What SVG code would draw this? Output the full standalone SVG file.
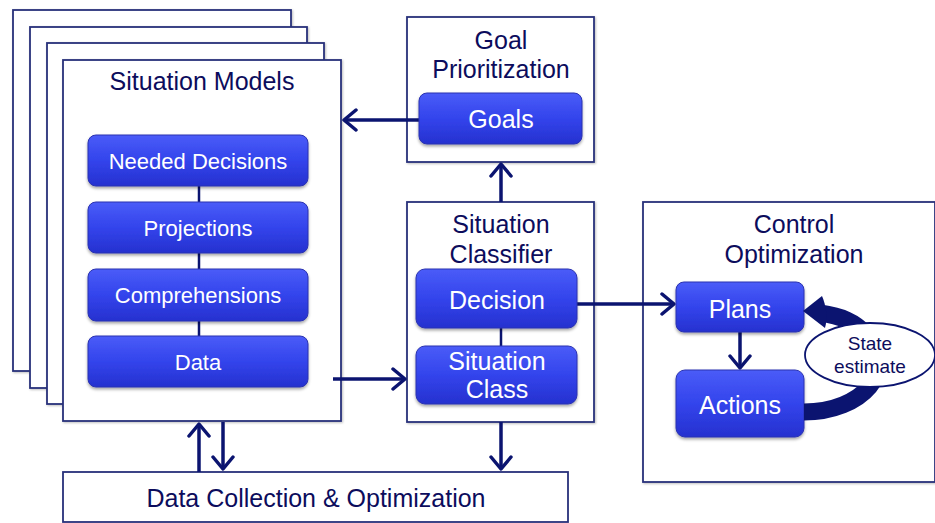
<svg xmlns="http://www.w3.org/2000/svg" width="935" height="523" viewBox="0 0 935 523">
<defs>
<linearGradient id="bg" x1="0" y1="0" x2="0" y2="1">
<stop offset="0" stop-color="#4a5cf8"/>
<stop offset="0.5" stop-color="#3344ec"/>
<stop offset="1" stop-color="#2631cf"/>
</linearGradient>
<filter id="sh" x="-10%" y="-10%" width="120%" height="130%">
<feDropShadow dx="0" dy="2" stdDeviation="1.5" flood-color="#000" flood-opacity="0.35"/>
</filter>
<filter id="sh2" x="-5%" y="-5%" width="110%" height="110%">
<feDropShadow dx="1" dy="1" stdDeviation="1" flood-color="#000" flood-opacity="0.25"/>
</filter>
<marker id="chev" viewBox="0 0 16 24" refX="14" refY="12" markerWidth="16" markerHeight="24" markerUnits="userSpaceOnUse" orient="auto">
<path d="M2 2 L14 12 L2 22" fill="none" stroke="#0b1470" stroke-width="3.5" stroke-linecap="round" stroke-linejoin="round"/>
</marker>
</defs>
<style>
.frame{fill:#fff;stroke:#27307a;stroke-width:1.8}
.bb{fill:url(#bg);stroke:#2a32b0;stroke-width:1}
.t{font-family:"Liberation Sans",Arial,sans-serif;fill:#0c0c5c;text-anchor:middle}
.w{font-family:"Liberation Sans",Arial,sans-serif;fill:#fff;text-anchor:middle}
.c{fill:none;stroke:#0b1470;stroke-width:3.5}
.l{fill:none;stroke:#0b1470;stroke-width:2.5}
</style>

<g id="pages-back">
<rect class="frame" x="13" y="10" width="278" height="361" filter="url(#sh2)"/>
<rect class="frame" x="30" y="27" width="277" height="361" filter="url(#sh2)"/>
<rect class="frame" x="47" y="43" width="277" height="361" filter="url(#sh2)"/>
</g>

<g id="situation-models">
<rect class="frame" x="63" y="60" width="278" height="361" filter="url(#sh2)"/>
<text class="t" x="202" y="90" font-size="25">Situation Models</text>
</g>

<g id="goal-prioritization">
<rect class="frame" x="407" y="17" width="187" height="145" filter="url(#sh2)"/>
<text class="t" x="501" y="49" font-size="25">Goal</text>
<text class="t" x="501" y="78" font-size="25">Prioritization</text>
</g>

<g id="situation-classifier">
<rect class="frame" x="407" y="202" width="187" height="220" filter="url(#sh2)"/>
<text class="t" x="501" y="233" font-size="25">Situation</text>
<text class="t" x="501" y="263" font-size="25">Classifier</text>
</g>

<g id="data-collection">
<rect class="frame" x="63" y="472" width="505" height="50"/>
<text class="t" x="316" y="507" font-size="25">Data Collection &amp; Optimization</text>
</g>

<g id="control-optimization">
<rect class="frame" x="643" y="202" width="292" height="280" filter="url(#sh2)"/>
<text class="t" x="794" y="233" font-size="25">Control</text>
<text class="t" x="794" y="263" font-size="25">Optimization</text>
</g>

<g id="connectors">
<path class="l" d="M199 186 V202 M199 253 V269 M199 321 V336 M501 328 V346"/>
<path class="c" d="M419 120 H344" marker-end="url(#chev)"/>
<path class="c" d="M501 202 V164" marker-end="url(#chev)"/>
<path class="c" d="M333 379 H405" marker-end="url(#chev)"/>
<path class="c" d="M501 422 V469" marker-end="url(#chev)"/>
<path class="c" d="M199 472 V424" marker-end="url(#chev)"/>
<path class="c" d="M223 422 V469" marker-end="url(#chev)"/>
<path class="c" d="M577 304 H674" marker-end="url(#chev)"/>
<path class="c" d="M740 332 V368" marker-end="url(#chev)"/>
</g>

<g id="needed-decisions">
<rect class="bb" x="88" y="135" width="220" height="51" rx="8" filter="url(#sh)"/>
<text class="w" x="198" y="169" font-size="22">Needed Decisions</text>
</g>
<g id="projections">
<rect class="bb" x="88" y="202" width="220" height="51" rx="8" filter="url(#sh)"/>
<text class="w" x="198" y="236" font-size="22">Projections</text>
</g>
<g id="comprehensions">
<rect class="bb" x="88" y="269" width="220" height="52" rx="8" filter="url(#sh)"/>
<text class="w" x="198" y="303" font-size="22">Comprehensions</text>
</g>
<g id="data">
<rect class="bb" x="88" y="336" width="220" height="51" rx="8" filter="url(#sh)"/>
<text class="w" x="198" y="370" font-size="22">Data</text>
</g>

<g id="goals">
<rect class="bb" x="419" y="93" width="163" height="51" rx="8" filter="url(#sh)"/>
<text class="w" x="501" y="128" font-size="25">Goals</text>
</g>

<g id="decision">
<rect class="bb" x="416" y="269" width="161" height="59" rx="9" filter="url(#sh)"/>
<text class="w" x="497" y="309" font-size="25">Decision</text>
</g>
<g id="situation-class">
<rect class="bb" x="416" y="346" width="161" height="58" rx="9" filter="url(#sh)"/>
<text class="w" x="497" y="370" font-size="25">Situation</text>
<text class="w" x="497" y="398" font-size="25">Class</text>
</g>

<g id="plans">
<rect class="bb" x="676" y="282" width="128" height="50" rx="8" filter="url(#sh)"/>
<text class="w" x="740" y="318" font-size="25">Plans</text>
</g>
<g id="actions">
<rect class="bb" x="676" y="370" width="128" height="67" rx="9" filter="url(#sh)"/>
<text class="w" x="740" y="414" font-size="25">Actions</text>
</g>

<g id="feedback-loop">
<path d="M804 412 C862 412 900 370 866 334 C855 322 842 316 820 313" fill="none" stroke="#0b1470" stroke-width="17"/>
<path d="M803 311 L822 296 C826 305 828 318 825 328 Z" fill="#0b1470"/>
</g>
<g id="state-estimate">
<ellipse cx="870" cy="355" rx="65" ry="32" fill="#fff" stroke="#0b1470" stroke-width="1.8"/>
<text class="t" x="870" y="350" font-size="19">State</text>
<text class="t" x="870" y="373" font-size="19">estimate</text>
</g>
</svg>
